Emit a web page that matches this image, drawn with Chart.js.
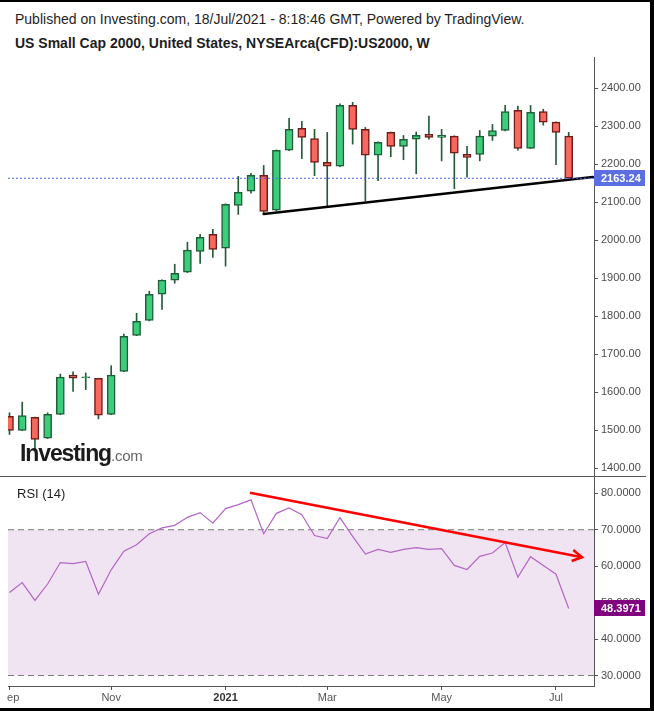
<!DOCTYPE html>
<html><head><meta charset="utf-8">
<script src="https://cdn.jsdelivr.net/npm/chart.js@4.4.1/dist/chart.umd.min.js"></script>
<style>
html,body{margin:0;padding:0;background:#fff;}
#wrap{position:relative;width:654px;height:711px;overflow:hidden;background:#fff;font-family:'Liberation Sans',Arial,sans-serif;}
.t{position:absolute;white-space:nowrap;color:#1e1e1e;font-size:13px;line-height:15px;}
canvas{position:absolute;}
.ln{position:absolute;background:#000;}
</style></head><body>
<div id="wrap">
  <div class="t" style="left:15px;top:11px;font-size:14px;line-height:16px;">Published on Investing.com, 18/Jul/2021 - 8:18:46 GMT, Powered by TradingView.</div>
  <div class="t" style="left:15px;top:35px;font-size:14px;line-height:16px;font-weight:bold;">US Small Cap 2000, United States, NYSEArca(CFD):US2000, W</div>
  <canvas id="price" width="643" height="420" style="left:7px;top:57px;"></canvas>
  <div style="position:absolute;left:0;top:476px;width:646px;height:1px;background:#555;"></div>
  <canvas id="rsi" width="643" height="230" style="left:7px;top:477px;"></canvas>
  <div class="t" style="left:17px;top:486px;">RSI (14)</div>
  <div style="position:absolute;left:20px;top:442px;line-height:23px;white-space:nowrap;">
    <span style="font-size:23px;font-weight:bold;letter-spacing:-1.1px;color:#1b1b1b;">Investing</span><span style="font-size:15px;color:#666;letter-spacing:-0.3px;">.com</span>
  </div>
  <div class="ln" style="left:0;top:0;width:654px;height:2px;"></div>
  <div class="ln" style="left:650px;top:0;width:4px;height:711px;"></div>
  <div class="ln" style="left:0;top:708px;width:654px;height:3px;"></div>
</div>
<script>
// ---- data (weekly candles, US Small Cap 2000) ----
const weeks = ['2020-09-07','2020-09-14','2020-09-21','2020-09-28','2020-10-05','2020-10-12','2020-10-19','2020-10-26',
  '2020-11-02','2020-11-09','2020-11-16','2020-11-23','2020-11-30','2020-12-07','2020-12-14','2020-12-21','2020-12-28',
  '2021-01-04','2021-01-11','2021-01-18','2021-01-25','2021-02-01','2021-02-08','2021-02-15','2021-02-22',
  '2021-03-01','2021-03-08','2021-03-15','2021-03-22','2021-03-29','2021-04-05','2021-04-12','2021-04-19','2021-04-26',
  '2021-05-03','2021-05-10','2021-05-17','2021-05-24','2021-05-31','2021-06-07','2021-06-14','2021-06-21','2021-06-28',
  '2021-07-05','2021-07-12'];
const openP  = [1537,1500,1534,1479,1542,1645,1638,1637,1542,1655,1750,1789,1858,1895,1916,1971,2016,1979,2092,2129,2171,2079,2237,2295,2268,2205,2195,2355,2292,2224,2284,2247,2266,2279,2271,2274,2226,2226,2274,2289,2342,2242,2339,2311,2274];
const highP  = [1546,1574,1535,1546,1648,1654,1651,1637,1670,1753,1808,1866,1896,1937,1995,2016,2029,2096,2168,2176,2197,2238,2321,2313,2292,2284,2359,2363,2297,2259,2285,2276,2285,2327,2292,2275,2247,2289,2305,2355,2353,2355,2345,2312,2284];
const lowP   = [1489,1499,1451,1478,1541,1602,1607,1530,1541,1654,1749,1788,1818,1887,1915,1939,1955,1932,2068,2124,2071,2077,2236,2215,2170,2088,2194,2253,2104,2157,2220,2212,2175,2266,2209,2136,2166,2209,2263,2288,2237,2241,2303,2199,2160];
const closeP = [1500,1539,1476,1542,1640,1637,1641,1540,1645,1747,1787,1858,1895,1913,1974,2008,1976,2095,2126,2171,2076,2237,2292,2271,2205,2195,2355,2292,2224,2258,2247,2266,2276,2271,2276,2229,2218,2274,2289,2339,2242,2337,2311,2284,2163.24];
const rsi14  = [52.8,55.5,50.6,55.1,61.0,60.7,61.3,52.3,59.0,64.1,65.9,68.9,70.5,71.2,73.4,74.7,71.8,75.8,76.9,78.2,68.9,74.5,76.0,74.1,68.4,67.6,73.3,68.2,63.3,64.6,63.8,64.6,65.1,64.6,64.8,60.2,59.1,62.7,63.6,66.5,57.0,62.6,60.2,57.8,48.3971];
const priceTicks = [1400,1500,1600,1700,1800,1900,2000,2100,2200,2300,2400];
const rsiTicks = [30,40,50,60,70,80];
const rsiBands = [70,30];
const monthTickIdx = [0,8,17,25,34,43];
const monthTickLabels = ['Sep','Nov','2021','Mar','May','Jul'];
// drawn annotations (x = week index, y = value)
const supportLine = [{x:20,y:2069},{x:45.9,y:2166.6}];
const rsiTrend = [{x:18.92,y:80.16},{x:45.05,y:62.44}];
const rsiArrowHead = [{x:44.36,y:64.44},{x:45.05,y:62.44},{x:44.23,y:61.42}];

// ---- view ranges ----
const X_MIN = -0.118, X_MAX = 45.99;
const FONT = "'Liberation Sans', Arial, sans-serif";
Chart.defaults.font.family = FONT;
Chart.defaults.animation = false;

const GREEN = '#3bcd7a', GREEN_B = '#1f5e3a', RED = '#f7685e', RED_B = '#6e1d17', WICK = '#245c3a';
const up = openP.map((o,i) => closeP[i] >= o);
const last = closeP.length - 1;

const valueTag = {
  id: 'valueTag',
  afterDraw(chart, args, o) {
    const {ctx, chartArea} = chart;
    const y = Math.round(chart.scales.y.getPixelForValue(o.value));
    ctx.save();
    ctx.fillStyle = o.bg;
    ctx.fillRect(chartArea.right, y - 8, 51, 16);
    ctx.fillStyle = '#fff';
    ctx.font = 'bold 11px ' + FONT;
    ctx.textBaseline = 'middle';
    ctx.textAlign = 'left';
    ctx.fillText(o.text, chartArea.right + 7, y + 0.5);
    ctx.restore();
  }
};

function yAxis(min, max, ticks, fmt) {
  return {
    type: 'linear', position: 'right', min, max,
    afterBuildTicks: s => { s.ticks = ticks.map(v => ({value: v})); },
    afterFit: s => { s.width = 56; s.paddingTop = 0; s.paddingBottom = 0; },
    grid: {drawOnChartArea: false, drawTicks: true, tickLength: 4, color: '#555'},
    border: {display: true, color: '#555', width: 1},
    ticks: {padding: 3, color: '#4a4a4a', font: {size: 11, family: FONT}, callback: v => Number(v).toFixed(fmt)}
  };
}

new Chart(document.getElementById('price'), {
  type: 'bar',
  data: {
    datasets: [
      {type: 'line', data: [{x: X_MIN, y: closeP[last]}, {x: X_MAX, y: closeP[last]}], borderColor: '#4a62d8', borderWidth: 1, borderDash: [2, 2], pointRadius: 0, order: 0},
      {type: 'line', data: supportLine, borderColor: '#000', borderWidth: 2.5, pointRadius: 0, order: 0, borderCapStyle: 'round'},
      {type: 'bar', data: weeks.map((w, i) => ({x: i, y: [openP[i], closeP[i]]})),
        backgroundColor: up.map(u => u ? GREEN : RED), borderColor: up.map(u => u ? GREEN_B : RED_B),
        borderWidth: 1.5, borderSkipped: false, barThickness: 8, grouped: false, order: 1},
      {type: 'bar', data: weeks.map((w, i) => ({x: i, y: [lowP[i], highP[i]]})),
        backgroundColor: WICK, borderWidth: 0, barThickness: 1, grouped: false, order: 2}
    ]
  },
  options: {
    responsive: false, animation: false, events: [],
    layout: {padding: {left: 1, right: 0, top: 0, bottom: 0}},
    plugins: {legend: {display: false}, tooltip: {enabled: false},
      valueTag: {value: closeP[last], text: closeP[last].toFixed(2), bg: '#5b6fe3'}},
    scales: {
      x: {type: 'linear', min: X_MIN, max: X_MAX, display: false, offset: false, grid: {offset: false}},
      y: yAxis(1377.1, 2482.4, priceTicks, 2)
    }
  },
  plugins: [valueTag]
});

new Chart(document.getElementById('rsi'), {
  type: 'line',
  data: {
    datasets: [
      {data: [{x: X_MIN, y: rsiBands[0]}, {x: X_MAX, y: rsiBands[0]}], borderColor: '#7d7d7d', borderWidth: 1, borderDash: [6, 4], pointRadius: 0, fill: '+1', backgroundColor: '#f0e4f2', order: 5},
      {data: [{x: X_MIN, y: rsiBands[1]}, {x: X_MAX, y: rsiBands[1]}], borderColor: '#7d7d7d', borderWidth: 1, borderDash: [6, 4], pointRadius: 0, fill: false, order: 4},
      {data: rsi14.map((v, i) => ({x: i, y: v})), borderColor: '#b466c6', borderWidth: 1.2, pointRadius: 0, tension: 0, fill: false, order: 2},
      {data: rsiTrend, borderColor: '#ff0000', borderWidth: 2.5, pointRadius: 0, fill: false, order: 1},
      {data: rsiArrowHead, borderColor: '#ff0000', borderWidth: 2.5, pointRadius: 0, fill: false, order: 1, borderJoinStyle: 'miter'}
    ]
  },
  options: {
    responsive: false, animation: false, events: [],
    layout: {padding: {left: 1, right: 0, top: 0, bottom: 0}},
    plugins: {legend: {display: false}, tooltip: {enabled: false},
      valueTag: {value: rsi14[last], text: rsi14[last].toFixed(4), bg: '#800080'}},
    scales: {
      x: {
        type: 'linear', min: X_MIN, max: X_MAX, offset: false, position: 'bottom',
        afterBuildTicks: s => { s.ticks = monthTickIdx.map(v => ({value: v})); },
        afterFit: s => { s.height = 21; s.paddingLeft = 0; s.paddingRight = 0; },
        grid: {drawOnChartArea: false, drawTicks: true, tickLength: 4, color: '#555', offset: false},
        border: {display: true, color: '#555', width: 1},
        ticks: {autoSkip: false, maxRotation: 0, padding: 1,
          color: c => (c.tick && c.tick.label === '2021') ? '#333' : '#555',
          font: c => ({size: 11, family: FONT, weight: (c.tick && c.tick.label === '2021') ? 'bold' : 'normal'}),
          callback: v => monthTickLabels[monthTickIdx.indexOf(v)]}
      },
      y: yAxis(27.12, 84.47, rsiTicks, 4)
    }
  },
  plugins: [valueTag]
});
</script>
</body></html>
